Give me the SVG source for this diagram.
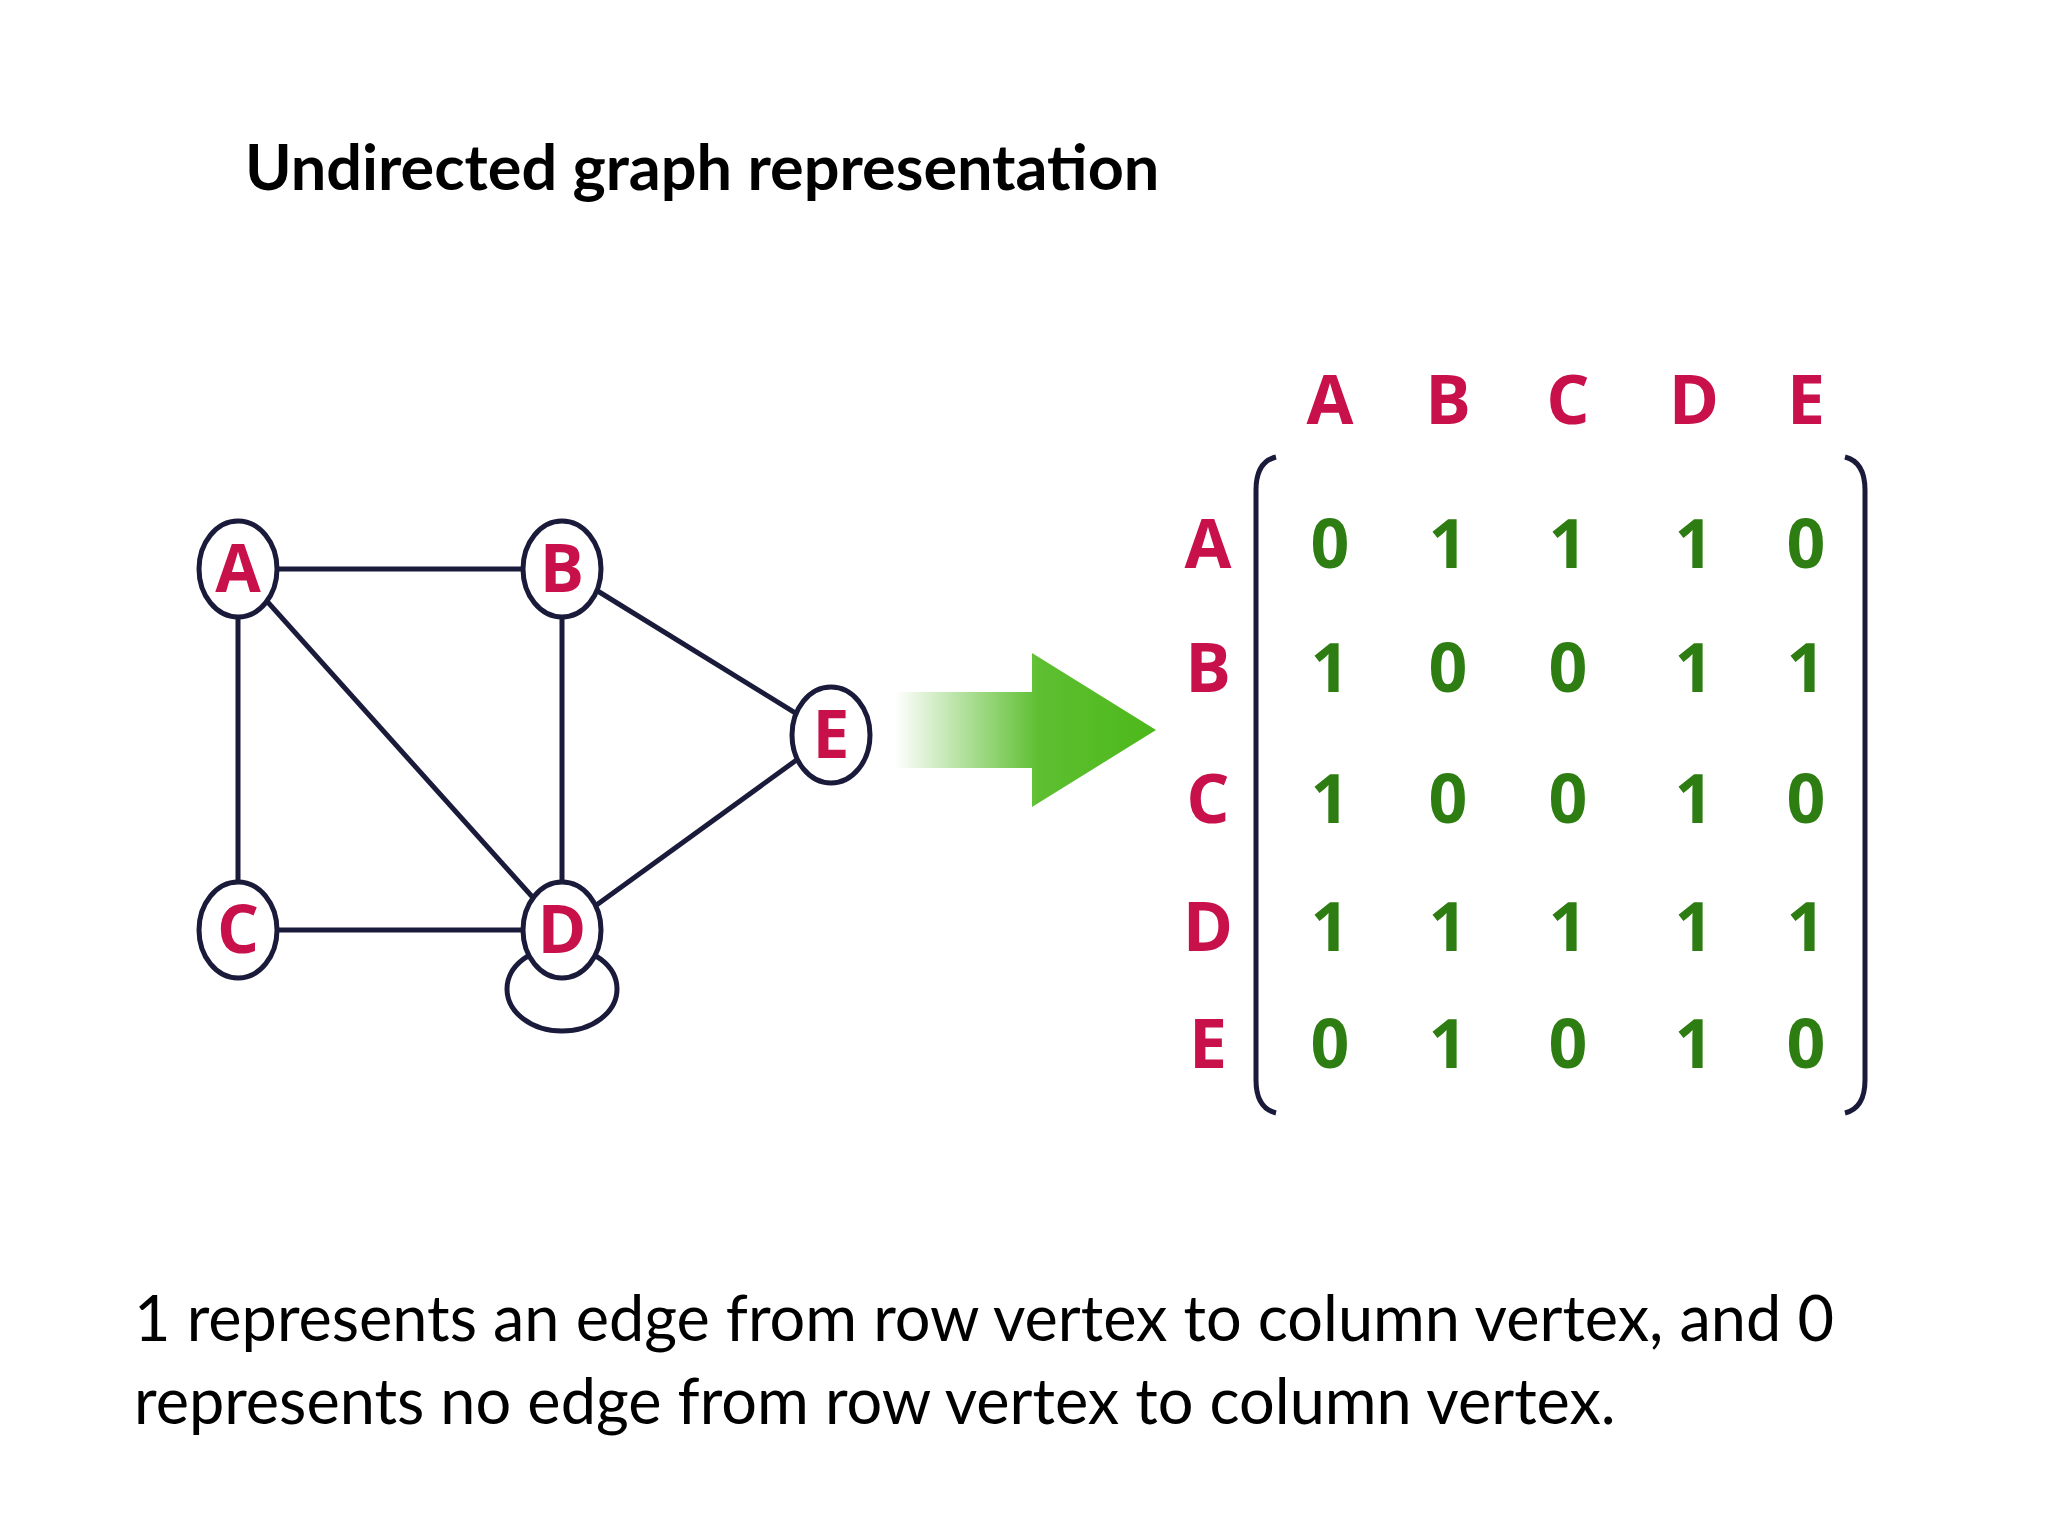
<svg xmlns="http://www.w3.org/2000/svg" width="2048" height="1536" viewBox="0 0 2048 1536">
<defs>
<style>
.n{fill:#fff;stroke:#1a1a3a;stroke-width:5}
.e{stroke:#1a1a3a;stroke-width:5;fill:none}
.nl{font-family:"Open Sans",sans-serif;font-weight:bold;font-size:66px;fill:#c8104a;text-anchor:middle}
.h{font-family:"Open Sans",sans-serif;font-weight:bold;font-size:68px;fill:#c8104a;text-anchor:middle}
.v{font-family:"Open Sans",sans-serif;font-weight:bold;font-size:68px;fill:#2e7d12;text-anchor:middle}
.t{font-family:Lato,"Liberation Sans",sans-serif;font-size:63px;fill:#000}
</style>
<linearGradient id="g" x1="895" y1="0" x2="1156" y2="0" gradientUnits="userSpaceOnUse">
<stop offset="0" stop-color="#4cb81a" stop-opacity="0"/>
<stop offset="0.55" stop-color="#4cb81a" stop-opacity="0.9"/>
<stop offset="1" stop-color="#4cb81a"/>
</linearGradient>
</defs>
<rect width="2048" height="1536" fill="#fff"/>
<text class="t" x="245" y="190" font-weight="bold" font-size="64">Undirected graph representation</text>
<g id="edges">
<line class="e" x1="238" y1="569" x2="562" y2="569"/>
<line class="e" x1="238" y1="569" x2="238" y2="930"/>
<line class="e" x1="238" y1="569" x2="562" y2="930"/>
<line class="e" x1="562" y1="569" x2="562" y2="930"/>
<line class="e" x1="562" y1="569" x2="831" y2="735"/>
<line class="e" x1="238" y1="930" x2="562" y2="930"/>
<line class="e" x1="562" y1="930" x2="831" y2="735"/>
<ellipse class="e" cx="562" cy="989" rx="55" ry="42"/>
</g>
<g id="A"><ellipse class="n" cx="238" cy="569" rx="39" ry="48"/><text class="nl" x="238" y="592">A</text></g>
<g id="B"><ellipse class="n" cx="562" cy="569" rx="39" ry="48"/><text class="nl" x="562" y="592">B</text></g>
<g id="E"><ellipse class="n" cx="831" cy="735" rx="39" ry="48"/><text class="nl" x="831" y="758">E</text></g>
<g id="C"><ellipse class="n" cx="238" cy="930" rx="39" ry="48"/><text class="nl" x="238" y="953">C</text></g>
<g id="D"><ellipse class="n" cx="562" cy="930" rx="39" ry="48"/><text class="nl" x="562" y="953">D</text></g>
<g id="arrow"><path d="M895 692 H1032 V653 L1156 730 L1032 807 V768 H895 Z" fill="url(#g)"/></g>
<g id="matrix">
<text class="h" x="1330" y="424">A</text><text class="h" x="1448" y="424">B</text><text class="h" x="1568" y="424">C</text><text class="h" x="1694" y="424">D</text><text class="h" x="1806" y="424">E</text>
<text class="h" x="1208" y="568">A</text><text class="h" x="1208" y="692">B</text><text class="h" x="1208" y="823">C</text><text class="h" x="1208" y="951">D</text><text class="h" x="1208" y="1068">E</text>
<path class="e" d="M1276 457 Q1256 462 1256 490 V1080 Q1256 1108 1276 1113"/>
<path class="e" d="M1845 457 Q1865 462 1865 490 V1080 Q1865 1108 1845 1113"/>
<g>
<text class="v" x="1330" y="568">0</text><text class="v" x="1448" y="568">1</text><text class="v" x="1568" y="568">1</text><text class="v" x="1694" y="568">1</text><text class="v" x="1806" y="568">0</text>
<text class="v" x="1330" y="692">1</text><text class="v" x="1448" y="692">0</text><text class="v" x="1568" y="692">0</text><text class="v" x="1694" y="692">1</text><text class="v" x="1806" y="692">1</text>
<text class="v" x="1330" y="823">1</text><text class="v" x="1448" y="823">0</text><text class="v" x="1568" y="823">0</text><text class="v" x="1694" y="823">1</text><text class="v" x="1806" y="823">0</text>
<text class="v" x="1330" y="951">1</text><text class="v" x="1448" y="951">1</text><text class="v" x="1568" y="951">1</text><text class="v" x="1694" y="951">1</text><text class="v" x="1806" y="951">1</text>
<text class="v" x="1330" y="1068">0</text><text class="v" x="1448" y="1068">1</text><text class="v" x="1568" y="1068">0</text><text class="v" x="1694" y="1068">1</text><text class="v" x="1806" y="1068">0</text>
</g>
</g>
<text class="t" x="134" y="1341">1 represents an edge from row vertex to column vertex, and 0</text>
<text class="t" x="134" y="1424">represents no edge from row vertex to column vertex.</text>
</svg>
